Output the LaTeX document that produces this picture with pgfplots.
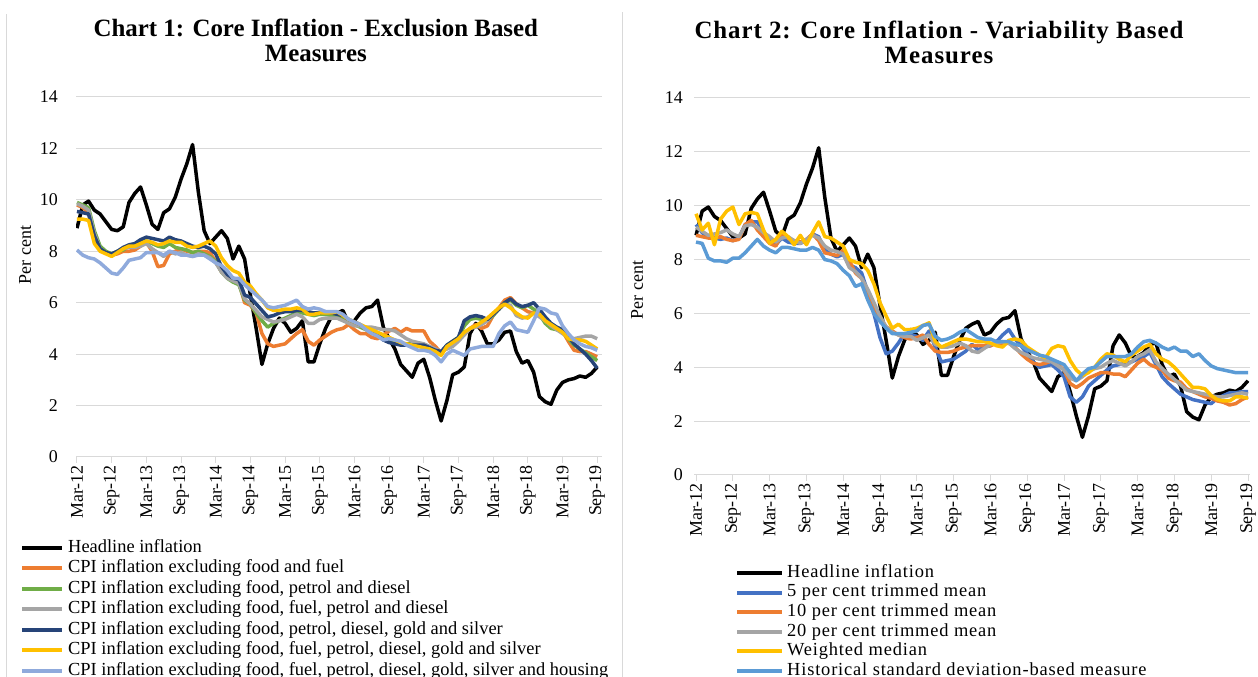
\documentclass[border=0pt]{standalone}
\usepackage{pgfplots}
\pgfplotsset{compat=1.18}
\usepackage{pgfplotstable}
\usepackage{fontspec}
\setmainfont{Liberation Serif}
\definecolor{gridc}{HTML}{D9D9D9}
\definecolor{cOr}{HTML}{ED7D31}
\definecolor{cGn}{HTML}{70AD47}
\definecolor{cGy}{HTML}{A5A5A5}
\definecolor{cNv}{HTML}{264478}
\definecolor{cYl}{HTML}{FFC000}
\definecolor{cLb}{HTML}{8FAADC}
\definecolor{cBl}{HTML}{4472C4}
\definecolor{cSd}{HTML}{5B9BD5}

% Chart 1: m = months since Mar-12
\pgfplotstableread{
m H O G Gr N Y LB
0 8.9 9.8 9.9 9.85 9.55 9.25 8.05
1 9.8 9.7 9.8 9.75 9.5 9.25 7.85
2 9.95 9.5 9.7 9.6 9.45 9.2 7.75
3 9.6 8.6 8.8 8.7 8.6 8.3 7.7
4 9.45 8.1 8.2 8.1 8.1 8.0 7.55
5 9.15 7.95 8.0 7.95 7.95 7.9 7.35
6 8.85 7.85 7.9 7.85 7.9 7.8 7.15
7 8.8 7.9 8.0 8.0 8.0 7.95 7.1
8 8.95 8.0 8.05 8.1 8.15 8.1 7.35
9 9.9 8.0 8.2 8.15 8.25 8.2 7.65
10 10.25 8.05 8.25 8.15 8.3 8.2 7.7
11 10.5 8.2 8.35 8.2 8.45 8.3 7.75
12 9.8 8.35 8.4 8.3 8.55 8.4 7.95
13 9.05 8.0 8.3 8.1 8.5 8.35 7.95
14 8.85 7.4 8.2 7.95 8.45 8.25 7.95
15 9.5 7.45 8.15 7.8 8.4 8.3 7.85
16 9.65 7.9 8.3 8.0 8.55 8.4 8.0
17 10.1 8.0 8.15 7.9 8.45 8.35 7.95
18 10.8 8.1 8.1 7.95 8.4 8.35 7.85
19 11.4 8.0 8.05 7.85 8.3 8.2 7.85
20 12.15 7.95 7.95 7.8 8.2 8.15 7.8
21 10.3 8.0 8.0 7.9 8.15 8.2 7.85
22 8.8 8.0 7.9 7.85 8.2 8.3 7.85
23 8.3 7.95 7.8 7.75 8.1 8.4 7.7
24 8.55 7.6 7.6 7.55 7.9 8.2 7.55
25 8.8 7.2 7.2 7.2 7.4 7.75 7.45
26 8.5 7.0 6.95 6.95 7.1 7.45 7.25
27 7.7 6.9 6.8 6.85 6.95 7.25 6.95
28 8.2 6.8 6.7 6.75 6.9 7.15 6.95
29 7.7 6.0 6.1 6.15 6.3 6.8 6.7
30 6.3 5.9 5.95 5.95 6.2 6.65 6.5
31 5.0 5.6 5.6 5.7 5.95 6.35 6.3
32 3.6 4.8 5.3 5.45 5.7 6.1 6.1
33 4.4 4.4 5.05 5.35 5.45 5.8 5.85
34 5.0 4.3 5.2 5.25 5.5 5.7 5.8
35 5.4 4.35 5.3 5.3 5.6 5.7 5.85
36 5.2 4.4 5.4 5.35 5.65 5.75 5.9
37 4.85 4.6 5.5 5.45 5.65 5.75 6.0
38 5.0 4.8 5.6 5.55 5.7 5.8 6.1
39 5.3 4.95 5.6 5.45 5.7 5.75 5.85
40 3.7 4.5 5.55 5.2 5.65 5.55 5.75
41 3.7 4.35 5.5 5.2 5.6 5.55 5.8
42 4.4 4.55 5.55 5.35 5.6 5.6 5.75
43 5.0 4.7 5.55 5.4 5.65 5.6 5.65
44 5.45 4.85 5.5 5.4 5.6 5.6 5.65
45 5.6 4.95 5.5 5.4 5.55 5.65 5.65
46 5.7 5.0 5.4 5.3 5.5 5.5 5.55
47 5.2 5.15 5.25 5.2 5.35 5.35 5.35
48 5.3 4.95 5.15 5.1 5.25 5.25 5.25
49 5.6 4.8 5.05 5.1 5.15 5.15 5.15
50 5.8 4.8 4.95 5.05 5.0 5.05 4.95
51 5.85 4.65 4.85 5.05 4.9 4.95 4.8
52 6.1 4.6 4.75 5.0 4.75 4.85 4.7
53 5.05 4.75 4.6 4.95 4.55 4.75 4.55
54 4.6 4.9 4.5 4.95 4.45 4.65 4.6
55 4.2 5.0 4.45 4.9 4.4 4.55 4.55
56 3.6 4.85 4.4 4.75 4.35 4.45 4.5
57 3.35 5.0 4.4 4.6 4.35 4.4 4.35
58 3.1 4.9 4.4 4.5 4.35 4.35 4.25
59 3.65 4.9 4.35 4.45 4.35 4.3 4.15
60 3.8 4.9 4.35 4.4 4.35 4.25 4.15
61 3.1 4.5 4.25 4.3 4.25 4.2 4.1
62 2.2 4.3 4.15 4.2 4.15 4.1 3.95
63 1.4 4.05 4.05 4.1 4.1 3.95 3.7
64 2.2 4.3 4.35 4.2 4.35 4.3 4.0
65 3.2 4.5 4.5 4.3 4.5 4.45 4.15
66 3.3 4.6 4.65 4.5 4.65 4.6 4.05
67 3.5 4.75 5.1 4.75 5.3 4.85 3.95
68 4.8 5.0 5.35 5.0 5.45 5.0 4.2
69 5.2 5.15 5.4 5.05 5.5 5.1 4.25
70 4.9 5.0 5.35 5.15 5.45 5.25 4.3
71 4.4 5.1 5.3 5.3 5.35 5.4 4.3
72 4.4 5.5 5.5 5.55 5.55 5.6 4.3
73 4.55 5.8 5.75 5.75 5.75 5.8 4.8
74 4.85 6.1 6.0 5.95 6.0 5.95 5.1
75 4.9 6.2 6.1 5.9 6.15 5.8 5.25
76 4.1 5.95 5.9 5.5 5.95 5.6 4.95
77 3.65 5.8 5.8 5.4 5.85 5.45 4.9
78 3.75 5.65 5.9 5.45 5.9 5.4 4.85
79 3.3 5.6 5.75 5.6 6.0 5.6 5.3
80 2.35 5.65 5.55 5.45 5.75 5.55 5.8
81 2.15 5.4 5.2 5.3 5.45 5.3 5.75
82 2.05 5.1 5.0 5.1 5.2 5.15 5.6
83 2.6 5.0 4.95 4.95 5.05 5.0 5.55
84 2.9 4.9 4.85 4.8 4.95 4.85 5.1
85 3.0 4.5 4.6 4.65 4.7 4.6 4.8
86 3.05 4.15 4.35 4.6 4.4 4.55 4.55
87 3.15 4.1 4.2 4.65 4.2 4.55 4.4
88 3.1 4.1 4.05 4.7 4.0 4.5 4.3
89 3.25 4.0 3.9 4.7 3.75 4.35 4.25
90 3.5 3.9 3.75 4.6 3.45 4.2 4.15
}\chartone

% Chart 2
\pgfplotstableread{
m T5 T10 T20 WM SD
0 9.3 8.9 9.2 9.7 8.65
1 9.0 8.85 9.05 9.1 8.6
2 8.85 8.8 8.9 9.35 8.05
3 8.8 8.8 8.95 8.55 7.95
4 8.75 8.85 9.0 9.5 7.95
5 8.8 8.75 9.1 9.8 7.9
6 8.7 8.7 8.95 9.95 8.05
7 8.8 8.75 8.85 9.3 8.05
8 9.3 9.3 9.25 9.7 8.25
9 9.4 9.45 9.3 9.75 8.5
10 9.4 9.1 9.2 9.7 8.75
11 9.0 8.85 9.0 9.1 8.5
12 8.8 8.6 8.85 8.6 8.35
13 8.55 8.5 8.65 8.75 8.25
14 8.8 8.95 8.8 9.05 8.45
15 8.65 8.8 8.85 8.85 8.45
16 8.6 8.7 8.7 8.55 8.4
17 8.6 8.65 8.6 8.9 8.35
18 8.7 8.75 8.75 8.55 8.35
19 8.95 8.95 8.9 9.0 8.45
20 8.85 8.7 8.8 9.4 8.35
21 8.35 8.25 8.5 8.85 8.0
22 8.2 8.2 8.35 8.8 7.95
23 8.1 8.15 8.3 8.65 7.85
24 8.2 8.35 8.2 8.5 7.6
25 7.8 7.95 7.7 8.0 7.4
26 7.7 7.5 7.55 7.9 7.0
27 7.5 7.3 7.3 7.85 7.1
28 6.8 6.8 6.9 7.6 6.5
29 6.0 6.3 6.4 7.1 6.0
30 5.1 5.8 5.9 6.4 5.7
31 4.5 5.5 5.5 5.9 5.45
32 4.6 5.35 5.3 5.45 5.25
33 4.9 5.2 5.2 5.6 5.25
34 5.25 5.1 5.15 5.4 5.25
35 5.2 5.05 5.15 5.4 5.3
36 5.15 5.1 5.0 5.45 5.35
37 5.0 5.2 5.1 5.55 5.55
38 5.35 4.85 5.2 5.65 5.6
39 4.75 4.6 4.85 4.95 5.15
40 4.2 4.55 4.75 4.75 5.0
41 4.25 4.55 4.75 4.85 5.05
42 4.3 4.6 4.8 4.95 5.15
43 4.45 4.7 4.9 5.05 5.3
44 4.6 4.75 4.8 5.05 5.4
45 4.85 4.8 4.6 5.0 5.25
46 4.65 4.8 4.55 4.95 5.1
47 4.75 4.8 4.7 4.95 5.05
48 4.8 4.8 4.85 4.9 5.05
49 4.95 4.9 4.9 4.8 4.95
50 5.2 4.85 4.95 4.75 4.95
51 5.4 4.9 4.9 5.0 4.95
52 5.05 4.75 4.7 5.05 4.85
53 4.8 4.5 4.55 5.0 4.8
54 4.5 4.3 4.45 4.75 4.65
55 4.2 4.15 4.35 4.6 4.55
56 4.0 4.1 4.3 4.45 4.45
57 4.05 4.15 4.25 4.35 4.4
58 4.1 4.25 4.2 4.7 4.3
59 3.9 4.1 4.05 4.8 4.2
60 3.65 3.9 3.9 4.75 4.1
61 2.9 3.4 3.6 4.25 3.8
62 2.7 3.25 3.5 3.9 3.5
63 2.9 3.4 3.65 3.7 3.75
64 3.3 3.6 3.85 3.8 3.95
65 3.5 3.7 3.95 4.0 4.0
66 3.7 3.8 4.0 4.3 4.2
67 3.9 3.8 4.15 4.5 4.4
68 4.05 3.75 4.25 4.45 4.4
69 4.1 3.75 4.15 4.3 4.4
70 4.15 3.65 4.05 4.2 4.4
71 4.2 3.9 4.2 4.45 4.5
72 4.3 4.15 4.4 4.6 4.75
73 4.4 4.3 4.5 4.75 4.95
74 4.55 4.1 4.65 4.85 5.0
75 4.1 4.0 4.2 4.5 4.9
76 3.65 3.9 3.95 4.3 4.75
77 3.4 3.6 3.75 4.2 4.65
78 3.2 3.5 3.55 4.0 4.75
79 3.0 3.45 3.35 3.75 4.6
80 2.9 3.2 3.15 3.5 4.6
81 2.8 3.1 3.1 3.25 4.4
82 2.75 3.0 3.05 3.25 4.5
83 2.7 2.9 3.0 3.2 4.25
84 2.65 2.85 2.95 2.95 4.05
85 2.85 2.75 2.9 2.8 3.95
86 2.95 2.7 2.9 2.75 3.9
87 3.05 2.6 2.95 2.75 3.85
88 3.05 2.65 3.0 2.9 3.8
89 3.1 2.8 3.05 2.9 3.8
90 3.1 2.9 3.0 2.85 3.8
}\charttwo

\pgfplotsset{
  inflax/.style={
    scale only axis,
    ymin=0, ymax=14, ytick={0,2,...,14},
    xtick={0,6,...,90},
    xticklabels={Mar-12,Sep-12,Mar-13,Sep-13,Mar-14,Sep-14,Mar-15,Sep-15,Mar-16,Sep-16,Mar-17,Sep-17,Mar-18,Sep-18,Mar-19,Sep-19},
    ymajorgrids, grid style={draw=gridc, line width=1bp},
    axis x line*=bottom, axis y line*=left,
    x axis line style={draw=gridc, line width=1bp, -},
    y axis line style={draw=none},
    xtick style={draw=gridc, line width=1bp},
    ytick style={draw=none},
    xtick align=outside, ytick align=inside,
    major tick length=6bp,
    tick label style={font=\fontsize{18}{20}\selectfont},
    /pgf/number format/assume math mode=true,
    xticklabel style={rotate=90, anchor=east, inner sep=2bp},
    yticklabel style={anchor=east, inner sep=0pt},
    every axis plot/.append style={line width=3.5bp, line join=round, no marks},
    title style={anchor=center, align=center},
    ylabel style={anchor=center, font=\fontsize{18}{20}\selectfont},
  }
}

\begin{document}
\begin{tikzpicture}[x=1bp,y=1bp]
\path[use as bounding box] (0,0) rectangle (1258,677);
\clip (0,0) rectangle (1258,677);
\draw[gridc, line width=1bp] (6,0) -- (6,663);
\draw[gridc, line width=1bp] (622,0) -- (622,665);

% ---------- Chart 1 ----------
\begin{axis}[inflax,
  at={(76bp,220bp)}, anchor=south west,
  width=526bp, height=360bp,
  xmin=-0.17, xmax=90.83,
  yticklabel style={xshift=-18bp},
  title={Chart 1: Core Inflation - Exclusion Based\\Measures},
  title style={at={(axis description cs:0.456,1.140)}, font=\bfseries\fontsize{25}{25}\selectfont},
  ylabel={Per cent},
  ylabel style={at={(axis description cs:-0.097,0.561)}},
]
\addplot[black] table[x=m, y=H] {\chartone};
\addplot[cOr] table[x=m, y=O] {\chartone};
\addplot[cGn] table[x=m, y=G] {\chartone};
\addplot[cGy] table[x=m, y=Gr] {\chartone};
\addplot[cNv] table[x=m, y=N] {\chartone};
\addplot[cYl] table[x=m, y=Y] {\chartone};
\addplot[cLb] table[x=m, y=LB] {\chartone};
\end{axis}

% ---------- Chart 2 ----------
\begin{axis}[inflax,
  at={(694bp,202bp)}, anchor=south west,
  width=556bp, height=377bp,
  xmin=-0.33, xmax=90.33,
  yticklabel style={xshift=-11bp},
  title={Chart 2: Core Inflation - Variability Based\\Measures},
  title style={at={(axis description cs:0.4406,1.131)}, font=\bfseries\fontsize{25}{25}\selectfont\addfontfeatures{LetterSpace=3.8}},
  ylabel={Per cent},
  ylabel style={at={(axis description cs:-0.1025,0.491)}},
]
\addplot[black] table[x=m, y=H] {\chartone};
\addplot[cBl] table[x=m, y=T5] {\charttwo};
\addplot[cOr] table[x=m, y=T10] {\charttwo};
\addplot[cGy] table[x=m, y=T20] {\charttwo};
\addplot[cYl] table[x=m, y=WM] {\charttwo};
\addplot[cSd] table[x=m, y=SD] {\charttwo};
\end{axis}

% ---------- Legends ----------
\begin{scope}[every node/.style={anchor=mid west, inner sep=0pt, yshift=-2bp, font=\fontsize{18.5}{20}\selectfont}]
\draw[black, line width=4bp] (22,129) -- (62,129);
\node at (68,129) {Headline inflation};
\draw[cOr, line width=4bp] (22,108.5) -- (62,108.5);
\node at (68,108.5) {CPI inflation excluding food and fuel};
\draw[cGn, line width=4bp] (22,88) -- (62,88);
\node at (68,88) {CPI inflation excluding food, petrol and diesel};
\draw[cGy, line width=4bp] (22,67.5) -- (62,67.5);
\node at (68,67.5) {CPI inflation excluding food, fuel, petrol and diesel};
\draw[cNv, line width=4bp] (22,47) -- (62,47);
\node at (68,47) {CPI inflation excluding food, petrol, diesel, gold and silver};
\draw[cYl, line width=4bp] (22,26.5) -- (62,26.5);
\node at (68,26.5) {CPI inflation excluding food, fuel, petrol, diesel, gold and silver};
\draw[cLb, line width=4bp] (22,6) -- (62,6);
\node at (68,6) {CPI inflation excluding food, fuel, petrol, diesel, gold, silver and housing};
\end{scope}
\begin{scope}[every node/.style={anchor=mid west, inner sep=0pt, yshift=-2bp, font=\fontsize{18.5}{20}\selectfont\addfontfeatures{LetterSpace=4.5}}]
\draw[black, line width=4bp] (737,104) -- (782,104);
\node at (787,104) {Headline inflation};
\draw[cBl, line width=4bp] (737,84.4) -- (782,84.4);
\node at (787,84.4) {5 per cent trimmed mean};
\draw[cOr, line width=4bp] (737,64.8) -- (782,64.8);
\node at (787,64.8) {10 per cent trimmed mean};
\draw[cGy, line width=4bp] (737,45.2) -- (782,45.2);
\node at (787,45.2) {20 per cent trimmed mean};
\draw[cYl, line width=4bp] (737,25.6) -- (782,25.6);
\node at (787,25.6) {Weighted median};
\draw[cSd, line width=4bp] (737,6) -- (782,6);
\node at (787,6) {Historical standard deviation-based measure};
\end{scope}
\end{tikzpicture}
\end{document}
